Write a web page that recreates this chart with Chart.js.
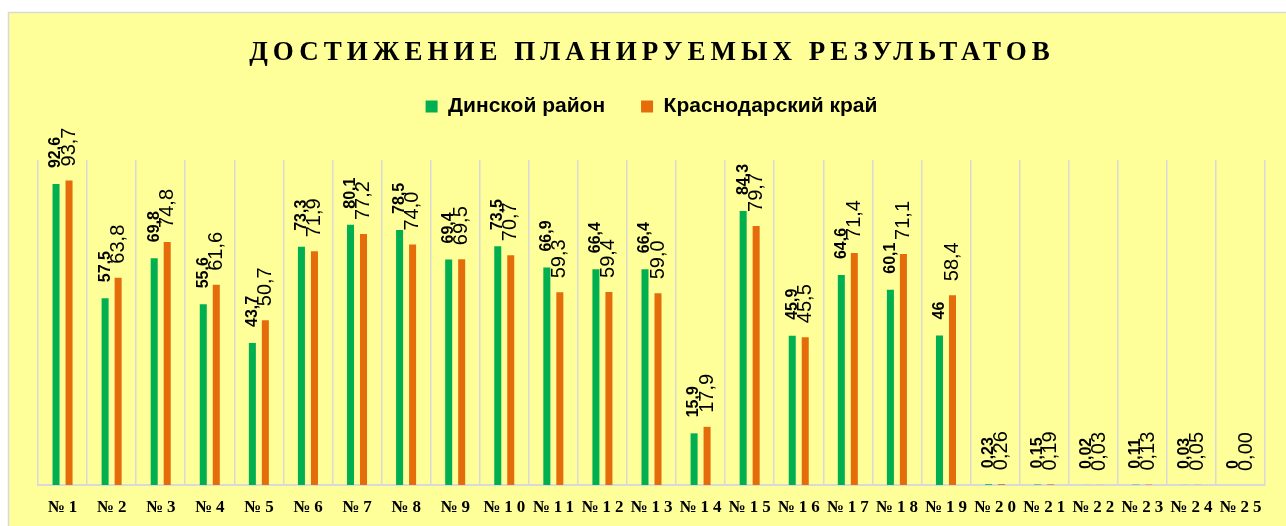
<!DOCTYPE html>
<html>
<head>
<meta charset="utf-8">
<title>Достижение планируемых результатов</title>
<script src="https://cdn.jsdelivr.net/npm/chart.js@4.4.1/dist/chart.umd.min.js"></script>
<style>
  html, body { margin: 0; padding: 0; background: #fff; }
  .chart-container { width: 1286px; height: 526px; }
</style>
</head>
<body>
<div class="chart-container"><canvas id="resultsChart"></canvas></div>
<script>
const chartTitle = "ДОСТИЖЕНИЕ ПЛАНИРУЕМЫХ РЕЗУЛЬТАТОВ";
const seriesNames = ["Динской район", "Краснодарский край"];
const categories = [
  "№1", "№2", "№3", "№4", "№5", "№6", "№7", "№8", "№9", "№10",
  "№11", "№12", "№13", "№14", "№15", "№16", "№17", "№18", "№19", "№20",
  "№21", "№22", "№23", "№24", "№25"
];
const dinskoy = [
  92.6, 57.5, 69.8, 55.6, 43.7, 73.3, 80.1, 78.5, 69.4, 73.5,
  66.9, 66.4, 66.4, 15.9, 84.3, 45.9, 64.6, 60.1, 46, 0.23,
  0.15, 0.02, 0.11, 0.03, 0
];
const krasnodar = [
  93.7, 63.8, 74.8, 61.6, 50.7, 71.9, 77.2, 74.0, 69.5, 70.7,
  59.3, 59.4, 59.0, 17.9, 79.7, 45.5, 71.4, 71.1, 58.4, 0.26,
  0.19, 0.03, 0.13, 0.05, 0.00
];

const GREEN = "#00b050";
const ORANGE = "#e46c0a";

// label formats: green as typed, orange with fixed decimals
const fmtGreen = (v) => String(v).replace(".", ",");
const fmtOrange = (v) => (v < 1 ? v.toFixed(2) : v.toFixed(1)).replace(".", ",");

// yellow panel with grey frame
const framePlugin = {
  id: "frame",
  beforeDraw(chart) {
    const ctx = chart.ctx;
    ctx.save();
    ctx.fillStyle = "#ffffff";
    ctx.fillRect(0, 0, chart.width, chart.height);
    ctx.fillStyle = "#ffff99";
    ctx.fillRect(9, 13, chart.width - 9, chart.height - 13);
    ctx.strokeStyle = "#d9d9d9";
    ctx.lineWidth = 1.5;
    ctx.beginPath();
    ctx.moveTo(8.5, chart.height);
    ctx.lineTo(8.5, 12.5);
    ctx.lineTo(chart.width, 12.5);
    ctx.stroke();
    ctx.restore();
  },
};

// more room under the legend
const legendGapPlugin = {
  id: "legendGap",
  beforeInit(chart) {
    const fit = chart.legend.fit;
    chart.legend.fit = function () {
      fit.call(this);
      this.height += 33;
    };
  },
};

// rotated value labels above the bars
const valueLabelsPlugin = {
  id: "valueLabels",
  afterDatasetsDraw(chart) {
    const ctx = chart.ctx;
    const styles = [
      { font: "bold 16px 'Liberation Sans'", offset: 16, fmt: fmtGreen },
      { font: "20px 'Liberation Sans'", offset: 14, fmt: fmtOrange },
    ];
    chart.data.datasets.forEach((ds, di) => {
      const meta = chart.getDatasetMeta(di);
      const st = styles[di];
      meta.data.forEach((bar, i) => {
        ctx.save();
        ctx.font = st.font;
        ctx.fillStyle = "#000";
        ctx.textAlign = "left";
        ctx.textBaseline = "middle";
        ctx.translate(bar.x, bar.y - st.offset);
        ctx.rotate(-Math.PI / 2);
        ctx.fillText(st.fmt(ds.data[i]), 0, 0);
        ctx.restore();
      });
    });
  },
};

// title and category labels with wide letter spacing
const textPlugin = {
  id: "spacedText",
  afterDraw(chart) {
    const ctx = chart.ctx;
    ctx.save();
    ctx.fillStyle = "#000";
    ctx.textAlign = "center";
    ctx.letterSpacing = "5px";
    ctx.font = "bold 27px 'Liberation Serif'";
    ctx.textBaseline = "alphabetic";
    ctx.fillText(chartTitle, 652, 60);

    const xScale = chart.scales.x;
    ctx.letterSpacing = "4px";
    ctx.font = "bold 17px 'Liberation Serif'";
    ctx.textBaseline = "middle";
    categories.forEach((c, i) => {
      ctx.fillText(c, xScale.getPixelForTick(i) + 2, 508);
    });
    ctx.restore();
  },
};

const data = {
  labels: categories,
  datasets: [
    {
      label: seriesNames[0],
      data: dinskoy,
      backgroundColor: GREEN,
      borderWidth: 0,
      categoryPercentage: 0.53,
      barPercentage: 0.54,
    },
    {
      label: seriesNames[1],
      data: krasnodar,
      backgroundColor: ORANGE,
      borderWidth: 0,
      categoryPercentage: 0.53,
      barPercentage: 0.54,
    },
  ],
};

const config = {
  type: "bar",
  data: data,
  options: {
    responsive: true,
    maintainAspectRatio: false,
    animation: false,
    layout: {
      padding: { left: 38, right: 21, top: 60, bottom: 41 },
    },
    plugins: {
      title: { display: false },
      tooltip: { enabled: false },
      legend: {
        position: "top",
        labels: {
          color: "#000",
          font: { family: "'Liberation Sans'", size: 21, weight: "bold" },
          boxWidth: 12,
          boxHeight: 12,
          padding: 36,
        },
      },
    },
    scales: {
      x: {
        grid: { color: "#d9d9d9", lineWidth: 1.5, drawTicks: false },
        border: { color: "#d9d9d9", width: 2 },
        ticks: { display: false },
      },
      y: {
        display: false,
        min: 0,
        max: 100,
      },
    },
  },
  plugins: [framePlugin, legendGapPlugin, valueLabelsPlugin, textPlugin],
};

new Chart(document.getElementById("resultsChart"), config);
</script>
</body>
</html>
